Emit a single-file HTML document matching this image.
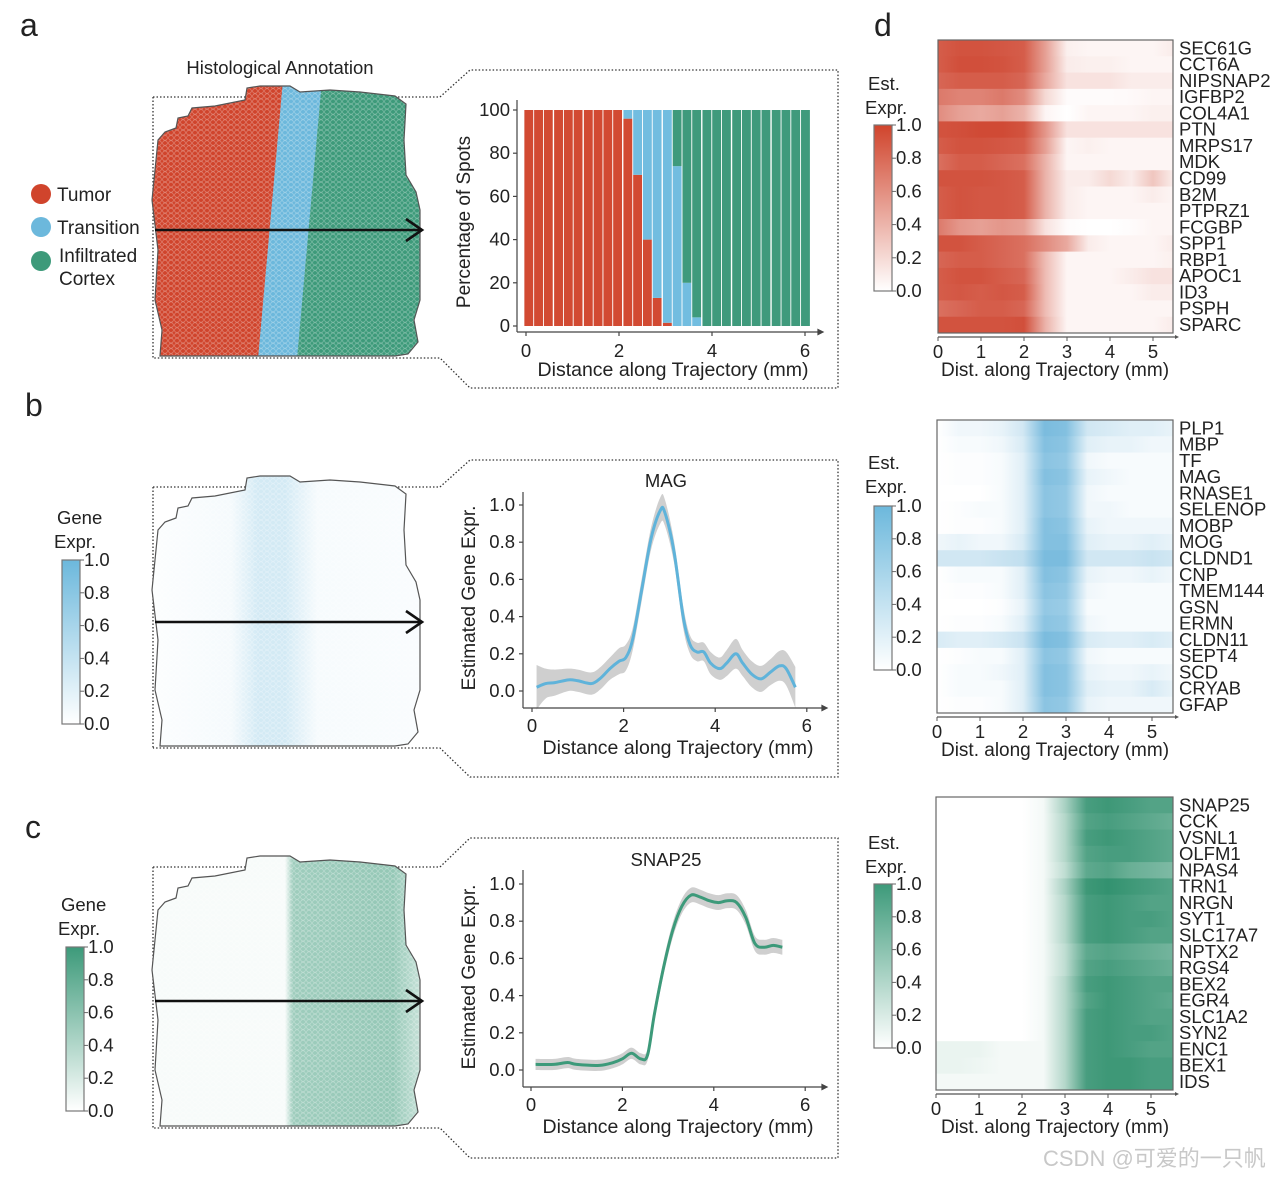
<!DOCTYPE html>
<html><head><meta charset="utf-8">
<style>
html,body{margin:0;padding:0;background:#fff;}
svg{display:block;font-family:"Liberation Sans","Noto Sans CJK SC",sans-serif;}
text{fill:#222;}
</style></head>
<body>
<svg id="fig" width="1286" height="1178" viewBox="0 0 1286 1178" xmlns="http://www.w3.org/2000/svg">
<defs>
<pattern id="hex" width="6" height="5.2" patternUnits="userSpaceOnUse">
<circle cx="3" cy="2.6" r="2.4" fill="none" stroke="rgba(255,255,255,0.35)" stroke-width="0.7"/>
</pattern>
<linearGradient id="bGrad" x1="150" x2="420" y1="0" y2="0" gradientUnits="userSpaceOnUse">
<stop offset="0" stop-color="#6cb8dc" stop-opacity="0.02"/>
<stop offset="0.3" stop-color="#6cb8dc" stop-opacity="0.07"/>
<stop offset="0.4" stop-color="#6cb8dc" stop-opacity="0.3"/>
<stop offset="0.5" stop-color="#6cb8dc" stop-opacity="0.3"/>
<stop offset="0.62" stop-color="#6cb8dc" stop-opacity="0.06"/>
<stop offset="1" stop-color="#6cb8dc" stop-opacity="0.04"/>
</linearGradient>
<linearGradient id="cGrad" x1="150" x2="420" y1="0" y2="0" gradientUnits="userSpaceOnUse">
<stop offset="0" stop-color="#3d9a7a" stop-opacity="0.04"/>
<stop offset="0.5" stop-color="#3d9a7a" stop-opacity="0.04"/>
<stop offset="0.53" stop-color="#3d9a7a" stop-opacity="0.5"/>
<stop offset="0.9" stop-color="#3d9a7a" stop-opacity="0.55"/>
<stop offset="1" stop-color="#3d9a7a" stop-opacity="0.3"/>
</linearGradient>
</defs>
<g id="root"></g>
</svg>
<script>
// ---------- DATA ----------
const barBins = [0.06,0.27,0.48,0.70,0.91,1.12,1.34,1.55,1.76,1.97,2.19,2.40,2.61,2.82,3.04,3.25,3.46,3.67,3.89,4.10,4.31,4.53,4.74,4.95,5.16,5.38,5.59,5.80,6.01];
const tumorPct = [100,100,100,100,100,100,100,100,100,100,96,70,40,13,1.5,0,0,0,0,0,0,0,0,0,0,0,0,0,0];
const transPct = [0,0,0,0,0,0,0,0,0,0,4,30,60,87,98.5,74,20,4,0,0,0,0,0,0,0,0,0,0,0];
const barTicks = [0,20,40,60,80,100];
const distTicks = [0,2,4,6];

const magX = [0.1,0.3,0.5,0.8,1.0,1.3,1.5,1.7,1.9,2.05,2.2,2.4,2.6,2.8,2.9,3.1,3.3,3.45,3.6,3.75,3.9,4.1,4.25,4.45,4.6,4.8,5.0,5.2,5.4,5.55,5.75];
const magY = [0.02,0.04,0.045,0.06,0.055,0.04,0.07,0.12,0.16,0.18,0.28,0.55,0.82,0.97,0.96,0.75,0.40,0.25,0.21,0.21,0.15,0.12,0.15,0.20,0.15,0.09,0.065,0.10,0.135,0.12,0.02];
const magErr = [0.12,0.08,0.07,0.06,0.06,0.06,0.06,0.06,0.07,0.07,0.06,0.06,0.06,0.07,0.07,0.06,0.06,0.05,0.05,0.05,0.06,0.06,0.07,0.08,0.07,0.07,0.07,0.07,0.08,0.09,0.11];
const snapX = [0.1,0.5,0.8,1.0,1.5,1.8,2.0,2.2,2.4,2.55,2.7,2.9,3.1,3.3,3.5,3.7,3.9,4.1,4.3,4.5,4.7,4.9,5.1,5.3,5.5];
const snapY = [0.03,0.03,0.04,0.03,0.025,0.04,0.06,0.09,0.06,0.08,0.30,0.55,0.75,0.88,0.94,0.93,0.91,0.90,0.91,0.90,0.82,0.68,0.66,0.67,0.66];
const snapErr = [0.03,0.03,0.03,0.03,0.03,0.03,0.03,0.03,0.03,0.03,0.04,0.04,0.04,0.04,0.04,0.04,0.04,0.04,0.04,0.04,0.04,0.04,0.04,0.04,0.04];
const exprTicks = [0.0,0.2,0.4,0.6,0.8,1.0];

const hmCols = [0,0.5,1,1.5,2,2.5,3,3.5,4,4.5,5,5.5];
const hmTicks = [0,1,2,3,4,5];
const redGenes = ["SEC61G","CCT6A","NIPSNAP2","IGFBP2","COL4A1","PTN","MRPS17","MDK","CD99","B2M","PTPRZ1","FCGBP","SPP1","RBP1","APOC1","ID3","PSPH","SPARC"];
const redVals = [
[.85,.9,.9,.88,.85,.5,.08,.05,.05,.05,.05,.1],
[.85,.92,.92,.9,.85,.5,.1,.08,.08,.05,.05,.05],
[.8,.85,.85,.85,.8,.45,.15,.15,.15,.1,.1,.1],
[.7,.65,.65,.7,.6,.2,.02,.02,.02,.03,.05,.05],
[.6,.5,.45,.5,.4,.05,0,.05,.05,.05,.08,.08],
[.9,.92,.95,.95,.9,.55,.15,.15,.15,.15,.15,.15],
[.85,.9,.9,.88,.85,.5,.05,.08,.05,.05,.05,.05],
[.75,.85,.85,.8,.75,.4,.05,.05,.05,.05,.05,.05],
[.9,.9,.9,.88,.85,.4,.1,.1,.2,.1,.3,.1],
[.85,.9,.88,.88,.85,.4,.1,.05,.05,.05,.1,.05],
[.85,.9,.88,.88,.85,.4,.1,.05,.05,.05,.05,.05],
[.7,.55,.5,.55,.5,.15,.02,0,0,.02,.05,.05],
[.9,.9,.85,.8,.75,.6,.45,.1,.05,.05,.05,.1],
[.8,.85,.85,.8,.75,.35,.05,.05,.05,.05,.05,.08],
[.85,.9,.9,.85,.8,.35,.05,.05,.05,.1,.15,.15],
[.85,.88,.85,.88,.85,.35,.05,.05,.05,.05,.1,.1],
[.75,.8,.85,.85,.8,.35,.05,.05,.05,.05,.05,.05],
[.9,.9,.9,.9,.92,.4,.05,.05,.05,.05,.05,.1]];
const blueGenes = ["PLP1","MBP","TF","MAG","RNASE1","SELENOP","MOBP","MOG","CLDND1","CNP","TMEM144","GSN","ERMN","CLDN11","SEPT4","SCD","CRYAB","GFAP"];
const blueVals = [
[0,.1,.1,.15,.3,.85,.8,.3,.25,.2,.2,.15],
[0,.05,.05,.1,.25,.8,.75,.2,.15,.15,.1,.1],
[0,.02,.02,.05,.2,.75,.7,.1,.05,.05,.05,.05],
[0,.02,.02,.05,.2,.8,.75,.15,.1,.05,.05,.05],
[0,0,0,.05,.2,.75,.7,.1,.05,.05,.05,.05],
[0,.02,.05,.05,.2,.75,.7,.1,.1,.05,.05,.05],
[0,.02,.02,.05,.2,.8,.75,.15,.1,.1,.1,.1],
[.1,.15,.1,.1,.25,.8,.8,.2,.15,.15,.2,.15],
[.3,.3,.3,.35,.4,.85,.85,.3,.3,.3,.35,.3],
[0,.05,.05,.05,.2,.8,.75,.15,.1,.1,.15,.1],
[0,.02,.02,.05,.2,.75,.7,.1,.05,.05,.05,.05],
[0,0,0,.02,.15,.7,.65,.05,.05,.05,.05,.05],
[0,.02,.02,.05,.2,.75,.7,.1,.05,.05,.05,.05],
[.25,.2,.2,.25,.35,.85,.8,.25,.2,.2,.25,.2],
[0,.02,.05,.05,.2,.75,.7,.1,.05,.05,.05,.05],
[0,.05,.05,.1,.2,.8,.75,.15,.1,.1,.15,.1],
[0,.05,.05,.05,.2,.8,.75,.2,.15,.15,.25,.15],
[0,.02,.02,.05,.2,.75,.7,.15,.1,.1,.1,.1]];
const greenGenes = ["SNAP25","CCK","VSNL1","OLFM1","NPAS4","TRN1","NRGN","SYT1","SLC17A7","NPTX2","RGS4","BEX2","EGR4","SLC1A2","SYN2","ENC1","BEX1","IDS"];
const greenVals = [
[0,0,0,0,0,.05,.4,.85,.9,.85,.8,.8],
[0,0,0,0,0,.05,.35,.8,.85,.8,.75,.7],
[0,0,0,0,0,.05,.35,.85,.9,.85,.8,.75],
[0,0,0,0,0,.05,.35,.8,.85,.85,.8,.75],
[0,0,0,0,0,.05,.3,.75,.8,.7,.65,.6],
[0,0,0,0,0,.05,.4,.9,.95,.9,.85,.8],
[0,0,0,0,0,.05,.35,.85,.9,.85,.8,.8],
[0,0,0,0,0,.05,.35,.85,.9,.85,.85,.8],
[0,0,0,0,0,.05,.35,.85,.9,.85,.8,.8],
[0,0,0,0,0,.05,.3,.75,.8,.75,.7,.65],
[0,0,0,0,0,.05,.3,.8,.85,.8,.75,.7],
[0,0,0,0,0,.05,.35,.85,.9,.85,.8,.8],
[0,0,0,0,0,.05,.35,.8,.9,.85,.8,.75],
[0,0,0,0,0,.05,.35,.85,.9,.85,.8,.8],
[0,0,0,0,0,.05,.35,.85,.9,.85,.85,.8],
[.1,.1,.1,.05,.05,.05,.35,.85,.9,.85,.8,.8],
[.1,.1,.08,.05,.05,.05,.35,.85,.9,.9,.85,.85],
[.05,.05,.05,.05,.05,.05,.35,.85,.9,.9,.85,.85]];
const cbTicks = [0.0,0.2,0.4,0.6,0.8,1.0];

// ---------- HELPERS ----------
const NS = "http://www.w3.org/2000/svg";
const root = document.getElementById("root");
const defs = document.querySelector("defs");
function mk(tag, attrs, parent) {
  const e = document.createElementNS(NS, tag);
  for (const k in attrs) e.setAttribute(k, attrs[k]);
  (parent || root).appendChild(e);
  return e;
}
function txt(x, y, s, size, anchor, parent) {
  const t = mk("text", {x: x, y: y, "font-size": size, "text-anchor": anchor || "start"}, parent);
  t.textContent = s;
  return t;
}
function smooth(pts) {
  let d = "M" + pts[0][0] + "," + pts[0][1];
  for (let i = 0; i < pts.length - 1; i++) {
    const p0 = pts[Math.max(0, i - 1)], p1 = pts[i], p2 = pts[i + 1], p3 = pts[Math.min(pts.length - 1, i + 2)];
    const c1x = p1[0] + (p2[0] - p0[0]) / 6, c1y = p1[1] + (p2[1] - p0[1]) / 6;
    const c2x = p2[0] - (p3[0] - p1[0]) / 6, c2y = p2[1] - (p3[1] - p1[1]) / 6;
    d += " C" + c1x + "," + c1y + " " + c2x + "," + c2y + " " + p2[0] + "," + p2[1];
  }
  return d;
}
function mixColor(rgb, v) {
  const r = Math.round(255 + (rgb[0] - 255) * v), g = Math.round(255 + (rgb[1] - 255) * v), b = Math.round(255 + (rgb[2] - 255) * v);
  return "rgb(" + r + "," + g + "," + b + ")";
}
let gid = 0;

// ---------- PANEL LABELS ----------
let e;
e = txt(20, 36, "a", 32);  
e = txt(25, 416, "b", 32);  
e = txt(25, 838, "c", 32);  
e = txt(874, 36, "d", 32);  

// ---------- TISSUE OUTLINE ----------
function outline(dy) {
  const p = [[158,140],[165,132],[176,128],[178,118],[188,116],[192,108],[215,106],[245,100],[247,88],[260,86],[290,86],[300,92],[330,90],[360,92],[395,96],[406,104],[404,140],[406,175],[416,192],[420,210],[420,300],[414,320],[418,342],[408,354],[395,356],[160,356],[162,330],[155,300],[158,250],[152,200],[156,160]];
  return "M" + p.map(q => q[0] + "," + (q[1] + dy)).join(" L") + " Z";
}
function boxLines(dy, chartTop, chartBottom, name) {
  const g = mk("g", {fill: "none", stroke: "#333", "stroke-width": 1.3, "stroke-dasharray": "1.5,2"});
  
  
  mk("path", {d: "M153," + (97 + dy) + " L153," + (358 + dy) + " M153," + (97 + dy) + " L440," + (97 + dy) + " L470," + chartTop + " L838," + chartTop + " L838," + chartBottom + " L470," + chartBottom + " L440," + (358 + dy) + " L153," + (358 + dy)}, g);
}
boxLines(0, 70, 388, "panel-a-zoom-box");
boxLines(390, 460, 777, "panel-b-zoom-box");
boxLines(770, 838, 1158, "panel-c-zoom-box");

// Panel a tissue
const cpA = mk("clipPath", {id: "clipA"}, defs);
mk("path", {d: outline(0)}, cpA);
const tA = mk("g", {"clip-path": "url(#clipA)"});


mk("rect", {x: 140, y: 80, width: 300, height: 290, fill: "#3d9a7a"}, tA);
mk("polygon", {points: "140,80 322,80 296,370 140,370", fill: "#6cb8dc"}, tA);
mk("polygon", {points: "140,80 283,80 257,370 140,370", fill: "#d0442c"}, tA);
mk("rect", {x: 140, y: 80, width: 300, height: 290, fill: "url(#hex)"}, tA);
mk("path", {d: outline(0), fill: "none", stroke: "#555", "stroke-width": 1.2});

e = txt(280, 74, "Histological Annotation", 18.5, "middle");  

function arrow(dy, name) {
  const g = mk("g", {stroke: "#111", "stroke-width": 2.6, fill: "none"});
  
  
  mk("line", {x1: 155, y1: 230 + dy, x2: 422, y2: 230 + dy}, g);
  mk("polyline", {points: "406," + (219 + dy) + " 422," + (230 + dy) + " 406," + (241 + dy)}, g);
}
arrow(0, "trajectory-arrow-a");

// legend
const legItems = [["#d0442c", ["Tumor"], 194], ["#6cb8dc", ["Transition"], 227], ["#3d9a7a", ["Infiltrated", "Cortex"], 261]];
legItems.forEach(function(it) {
  const g = mk("g", {});
  
  
  mk("circle", {cx: 41, cy: it[2], r: 10, fill: it[0]}, g);
  if (it[1].length === 1) txt(57, it[2] + 7, it[1][0], 19, "start", g);
  else { txt(59, it[2] + 1, it[1][0], 19, "start", g); txt(59, it[2] + 24, it[1][1], 19, "start", g); }
});

// ---------- BAR CHART ----------
(function() {
  const xS = d => 526 + d * 46.5;
  const yS = v => 326 - v * 2.16;
  const g = mk("g", {});
  
  
  const bw = 9.86;
  barBins.forEach(function(d, i) {
    const x = xS(d) - bw / 2 + 0.5, w = bw - 1.0;
    const tu = tumorPct[i], tr = transPct[i];
    let r;
    r = mk("rect", {x: x, y: yS(tu), width: w, height: yS(0) - yS(tu), fill: "#d24a32"}, g);
    
    
    r = mk("rect", {x: x, y: yS(tu + tr), width: w, height: yS(tu) - yS(tu + tr), fill: "#72bde0"}, g);
    
    
    r = mk("rect", {x: x, y: yS(100), width: w, height: yS(tu + tr) - yS(100), fill: "#3f9a7c"}, g);
    
    
  });
  const ax = mk("g", {stroke: "#444", "stroke-width": 1.2, fill: "none"});
  
  
  mk("line", {x1: 517, y1: 100, x2: 517, y2: 332}, ax);
  mk("line", {x1: 517, y1: 332, x2: 818, y2: 332}, ax);
  mk("polygon", {points: "818,329.5 823,332 818,334.5", fill: "#444"}, ax);
  barTicks.forEach(function(t) {
    mk("line", {x1: 513, y1: yS(t), x2: 517, y2: yS(t)}, ax);
    const l = txt(510, yS(t) + 6, String(t), 18.5, "end", g);
    
    
  });
  distTicks.forEach(function(t) {
    mk("line", {x1: xS(t), y1: 332, x2: xS(t), y2: 336}, ax);
    const l = txt(xS(t), 357, String(t), 18.5, "middle", g);
    
    
  });
  let l = txt(673, 376, "Distance along Trajectory (mm)", 19.5, "middle", g);
  
  
  l = txt(0, 0, "Percentage of Spots", 19, "middle", g);
  l.setAttribute("transform", "translate(470,222) rotate(-90)");
  
  
})();

// ---------- LINE CHARTS ----------
function lineChart(opt) {
  const xS = d => opt.x0 + d * opt.px;
  const yS = v => opt.y0 - v * opt.py;
  const g = mk("g", {});
  
  
  const up = opt.xs.map((d, i) => [xS(d), yS(opt.ys[i] + opt.err[i])]);
  const lo = opt.xs.map((d, i) => [xS(d), yS(opt.ys[i] - opt.err[i])]).reverse();
  const band = mk("path", {d: smooth(up) + " L" + smooth(lo).slice(1) + " Z", fill: "#cfcfcf"}, g);
  
  
  const ln = mk("path", {d: smooth(opt.xs.map((d, i) => [xS(d), yS(opt.ys[i])])), fill: "none", stroke: opt.color, "stroke-width": 3}, g);
  
  
  const ax = mk("g", {stroke: "#444", "stroke-width": 1.2, fill: "none"}, g);
  
  
  mk("line", {x1: opt.ax, y1: opt.top, x2: opt.ax, y2: opt.bot}, ax);
  mk("line", {x1: opt.ax, y1: opt.bot, x2: 822, y2: opt.bot}, ax);
  mk("polygon", {points: "822," + (opt.bot - 2.5) + " 827," + opt.bot + " 822," + (opt.bot + 2.5), fill: "#444"}, ax);
  exprTicks.forEach(function(t) {
    mk("line", {x1: opt.ax - 4, y1: yS(t), x2: opt.ax, y2: yS(t)}, ax);
    const l = txt(opt.ax - 8, yS(t) + 6, t.toFixed(1), 18.5, "end", g);
    
    
  });
  distTicks.forEach(function(t) {
    mk("line", {x1: xS(t), y1: opt.bot, x2: xS(t), y2: opt.bot + 4}, ax);
    const l = txt(xS(t), opt.bot + 24, String(t), 18.5, "middle", g);
    
    
  });
  let l = txt(678, opt.bot + 46, "Distance along Trajectory (mm)", 19.5, "middle", g);
  
  
  l = txt(0, 0, "Estimated Gene Expr.", 19, "middle", g);
  l.setAttribute("transform", "translate(475," + (opt.y0 - 93) + ") rotate(-90)");
  
  
  l = txt(666, opt.y0 - 204, opt.title, 18.5, "middle", g);
  
  
}
lineChart({name: "mag-line-chart", xs: magX, ys: magY, err: magErr, color: "#5fb3da", x0: 532, px: 45.8, y0: 691, py: 186, ax: 523, top: 492, bot: 708, title: "MAG"});
lineChart({name: "snap25-line-chart", xs: snapX, ys: snapY, err: snapErr, color: "#3d9a7a", x0: 531, px: 45.7, y0: 1070, py: 186, ax: 523, top: 870, bot: 1087, title: "SNAP25"});

// ---------- PANEL b / c TISSUES ----------
function exprTissue(dy, fillId, name, clip) {
  const cp = mk("clipPath", {id: clip}, defs);
  mk("path", {d: outline(dy)}, cp);
  const g = mk("g", {"clip-path": "url(#" + clip + ")"});
  
  
  mk("rect", {x: 140, y: 80 + dy, width: 300, height: 290, fill: "#fff"}, g);
  mk("rect", {x: 140, y: 80 + dy, width: 300, height: 290, fill: "url(#" + fillId + ")"}, g);
  mk("rect", {x: 140, y: 80 + dy, width: 300, height: 290, fill: "url(#hex)"}, g);
  mk("path", {d: outline(dy), fill: "none", stroke: "#555", "stroke-width": 1.2});
}
exprTissue(390, "bGrad", "mag-tissue-map", "clipB");
arrow(392, "trajectory-arrow-b");
exprTissue(770, "cGrad", "snap25-tissue-map", "clipC");
arrow(771, "trajectory-arrow-c");

// ---------- COLORBARS ----------
function colorbar(x, top, bot, rgb, lbl1, lbl2, lx, ly, name) {
  const g = mk("g", {});
  
  
  const id = "cb" + (gid++);
  const lg = mk("linearGradient", {id: id, x1: 0, x2: 0, y1: 0, y2: 1}, defs);
  mk("stop", {offset: 0, "stop-color": mixColor(rgb, 1)}, lg);
  mk("stop", {offset: 1, "stop-color": "#fff"}, lg);
  mk("rect", {x: x, y: top, width: 18, height: bot - top, fill: "url(#" + id + ")", stroke: "#777", "stroke-width": 1.2}, g);
  cbTicks.forEach(function(t) {
    const y = bot - t * (bot - top);
    mk("line", {x1: x + 18, y1: y, x2: x + 22, y2: y, stroke: "#666"}, g);
    const l = txt(x + 22, y + 6, t.toFixed(1), 18.5, "start", g);
    
    
  });
  txt(lx, ly, lbl1, 18.5, "start", g);
  txt(lx - 3, ly + 24, lbl2, 18.5, "start", g);
}
colorbar(62, 560, 724, [108,184,220], "Gene", "Expr.", 57, 524, "mag-colorbar");
colorbar(66, 947, 1111, [61,154,122], "Gene", "Expr.", 61, 911, "snap25-colorbar");
colorbar(874, 125, 291, [208,68,44], "Est.", "Expr.", 868, 90, "red-heatmap-colorbar");
colorbar(874, 506, 670, [108,184,220], "Est.", "Expr.", 868, 469, "blue-heatmap-colorbar");
colorbar(874, 884, 1048, [61,154,122], "Est.", "Expr.", 868, 849, "green-heatmap-colorbar");

// ---------- HEATMAPS ----------
function heatmap(genes, vals, rgb, left, right, top, bot, name) {
  const g = mk("g", {});
  
  
  const xS = d => left + d * 43;
  const rowH = (bot - top) / genes.length;
  genes.forEach(function(gene, i) {
    const id = "hm" + (gid++);
    const lg = mk("linearGradient", {id: id, x1: left, x2: right, y1: 0, y2: 0, gradientUnits: "userSpaceOnUse"}, defs);
    hmCols.forEach(function(c, j) {
      mk("stop", {offset: Math.min(1, (xS(c) - left) / (right - left)), "stop-color": mixColor(rgb, vals[i][j])}, lg);
    });
    const r = mk("rect", {x: left, y: top + i * rowH, width: right - left, height: rowH + 0.5, fill: "url(#" + id + ")"}, g);
    
    
    const l = txt(right + 6, top + (i + 1) * rowH - 2, gene, 18.5, "start", g);
    
    
  });
  mk("rect", {x: left, y: top, width: right - left, height: bot - top, fill: "none", stroke: "#666", "stroke-width": 1.2}, g);
  mk("line", {x1: left, y1: bot + 4, x2: right + 2, y2: bot + 4, stroke: "#555", "stroke-width": 1.2}, g);
  mk("polygon", {points: (right + 2) + "," + (bot + 2) + " " + (right + 6) + "," + (bot + 4) + " " + (right + 2) + "," + (bot + 6), fill: "#555"}, g);
  hmTicks.forEach(function(t) {
    mk("line", {x1: xS(t), y1: bot + 4, x2: xS(t), y2: bot + 8, stroke: "#555"}, g);
    const l = txt(xS(t), bot + 25, String(t), 18.5, "middle", g);
    
    
  });
  const l = txt(1055, bot + 43, "Dist. along Trajectory (mm)", 19, "middle", g);
  
  
}
heatmap(redGenes, redVals, [205,64,42], 938, 1173, 40, 333, "tumor-genes-heatmap");
heatmap(blueGenes, blueVals, [100,176,216], 937, 1173, 420, 713, "transition-genes-heatmap");
heatmap(greenGenes, greenVals, [40,140,104], 936, 1173, 797, 1090, "cortex-genes-heatmap");

e = txt(1043, 1166, "CSDN @可爱的一只帆", 22, "start");
e.setAttribute("style", "fill:#c8c8c8");


</script>
</body></html>
